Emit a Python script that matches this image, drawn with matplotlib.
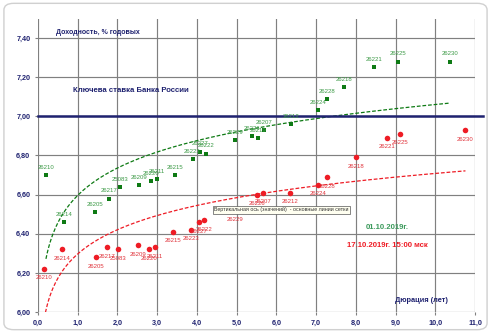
import numpy as np
import matplotlib
matplotlib.use("Agg")
import matplotlib.pyplot as plt
from matplotlib.patches import FancyBboxPatch
from matplotlib.ticker import FuncFormatter, MultipleLocator

plt.rcParams["font.family"] = ["Liberation Sans", "DejaVu Sans"]

# OFZ yield curve: duration (years) vs yield (% p.a.)
bonds_oct01 = ["26210", "26214", "26205", "26217", "25083", "26209", "26220", "26211",
               "26215", "26223", "26227", "26222", "26229", "26226", "26219", "26207",
               "26212", "26224", "26228", "26218", "26221", "26225", "26230"]
dur_oct01 = [0.20, 0.65, 1.44, 1.79, 2.06, 2.55, 2.85, 3.00, 3.45, 3.89, 4.08, 4.22,
             4.96, 5.39, 5.55, 5.69, 6.36, 7.04, 7.27, 7.70, 8.45, 9.06, 10.38]
yld_oct01 = [6.70, 6.46, 6.51, 6.58, 6.64, 6.65, 6.67, 6.68, 6.70, 6.78, 6.82, 6.81,
             6.88, 6.90, 6.89, 6.93, 6.96, 7.03, 7.09, 7.15, 7.25, 7.28, 7.28]

bonds_oct17 = ["26210", "26214", "26205", "26217", "25083", "26209", "26220", "26211",
               "26215", "26223", "26227", "26222", "26229", "26226", "26207", "26212",
               "26224", "26228", "26218", "26221", "26225", "26230"]
dur_oct17 = [0.16, 0.60, 1.45, 1.74, 2.01, 2.51, 2.80, 2.95, 3.40, 3.85, 4.05, 4.17,
             4.96, 5.52, 5.66, 6.35, 7.04, 7.27, 8.00, 8.79, 9.10, 10.76]
yld_oct17 = [6.22, 6.32, 6.28, 6.33, 6.32, 6.34, 6.32, 6.33, 6.41, 6.42, 6.46, 6.47,
             6.52, 6.60, 6.61, 6.61, 6.65, 6.69, 6.79, 6.89, 6.91, 6.93]

key_rate = 7.00

navy = "#1f2270"
green_mk = "#0e7a14"
green_txt = "#3d9a47"
red_mk = "#ee1c25"
red_txt = "#e0333b"

fig = plt.figure(figsize=(4.91, 3.33), dpi=100)
fig.patches.append(FancyBboxPatch((0.008, 0.01), 0.984, 0.98, boxstyle="round,pad=0,rounding_size=0.02",
                                  transform=fig.transFigure, facecolor="white",
                                  edgecolor="#d0d0d0", linewidth=1.0, zorder=-10))
ax = fig.add_axes([0.0774, 0.0631, 0.89, 0.8813])
ax.set_facecolor("none")

ax.set_xlim(0, 11)
ax.set_ylim(6.0, 7.5)
ax.xaxis.set_major_locator(MultipleLocator(1))
ax.xaxis.set_major_formatter(FuncFormatter(lambda v, p: f"{v:.1f}".replace(".", ",")))
ax.yaxis.set_major_formatter(FuncFormatter(lambda v, p: f"{v:.2f}".replace(".", ",")))
ax.set_yticks(np.arange(6.0, 7.41, 0.2))
ax.grid(True, color="#808080", linewidth=0.85)
for s in ["top", "right", "left", "bottom"]:
    ax.spines[s].set_visible(False)
ax.tick_params(axis="both", length=2.5, color="#808080", labelsize=5.2, labelcolor=navy, pad=3)
for lbl in ax.get_xticklabels() + ax.get_yticklabels():
    lbl.set_fontweight("bold")

# key rate line
ax.axhline(key_rate, xmin=0, xmax=1.018, color=navy, linewidth=1.8, clip_on=False, zorder=3)

# logarithmic trend lines
for d, y, c in [(dur_oct01, yld_oct01, green_mk), (dur_oct17, yld_oct17, red_mk)]:
    d = np.array(d)
    a, b = np.polyfit(np.log(d), np.array(y), 1)
    xs = np.linspace(d.min(), d.max(), 300)
    ax.plot(xs, a * np.log(xs) + b, linestyle=(0, (3, 1.5)), color=c, linewidth=0.9, zorder=2)

ax.scatter(dur_oct01, yld_oct01, marker="s", s=11, color=green_mk, zorder=4, linewidths=0)
ax.scatter(dur_oct17, yld_oct17, marker="o", s=16, color=red_mk, zorder=4, linewidths=0)

for name, x, y in zip(bonds_oct01, dur_oct01, yld_oct01):
    ax.annotate(name, (x, y), xytext=(0, 5.5), textcoords="offset points",
                ha="center", va="center", fontsize=4.3, color=green_txt, zorder=5)
for name, x, y in zip(bonds_oct17, dur_oct17, yld_oct17):
    ax.annotate(name, (x, y), xytext=(0, -6.5), textcoords="offset points",
                ha="center", va="center", fontsize=4.3, color=red_txt, zorder=5)

ax.text(0.45, 7.43, "Доходность, % годовых", fontsize=5, fontweight="bold", color=navy,
        va="center", ha="left")
ax.text(0.88, 7.13, "Ключева ставка Банка России", fontsize=5.6, fontweight="bold",
        color=navy, va="center", ha="left")
ax.text(8.8, 6.43, "01.10.2019г.", fontsize=5.6, fontweight="bold", color="#3c9a5c",
        va="center", ha="center")
ax.text(8.8, 6.34, "17.10.2019г. 15:00 мск", fontsize=5.6, fontweight="bold", color=red_mk,
        va="center", ha="center")
ax.text(9.66, 6.06, "Дюрация (лет)", fontsize=5.3, fontweight="bold", color=navy,
        va="center", ha="center")

# grid tooltip box drawn over the chart
ax.text(4.43, 6.523, "Вертикальная ось (значений)  - основные линии сетки", fontsize=3.8,
        color="#333333", va="center", ha="left", zorder=6,
        bbox=dict(boxstyle="square,pad=0.25", facecolor="#fffff0", edgecolor="#555555",
                  linewidth=0.5))

fig.savefig("out.png", dpi=100)
